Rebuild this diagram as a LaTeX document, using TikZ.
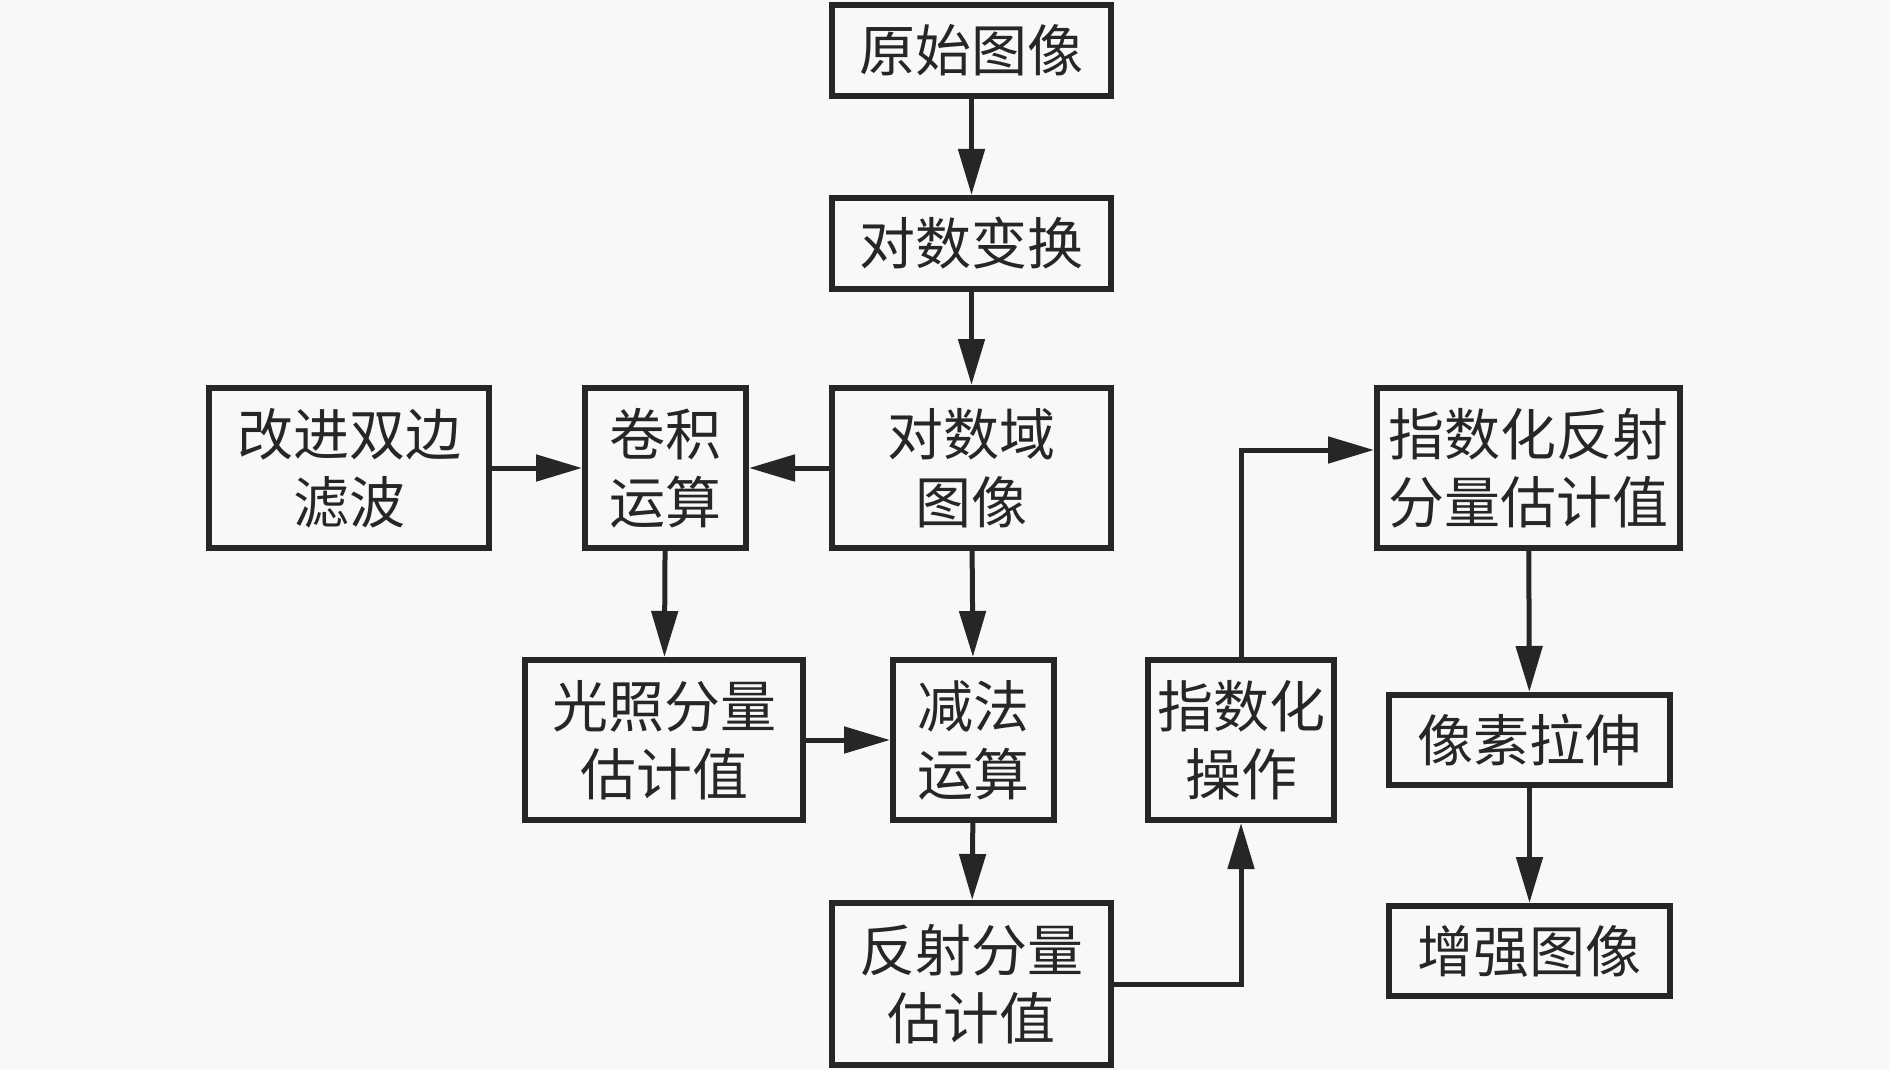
\documentclass[tikz,border=0pt]{standalone}
\usepackage{fontspec}
\newfontfamily\cjk{Noto Sans CJK SC}
\usetikzlibrary{arrows.meta,calc}
\definecolor{bg}{HTML}{F8F8F8}
\definecolor{ink}{HTML}{262626}
\begin{document}
\begin{tikzpicture}[x=1pt,y=-1pt,
  box/.style={draw=ink,line width=6pt,fill=bg,inner sep=0pt,align=center,
    text=ink,font=\cjk\fontsize{56}{68}\selectfont},
  arr/.style={draw=ink,line width=5pt,-{Triangle[length=46pt,width=26pt]}}]
\fill[bg] (0,0) rectangle (1890,1070);
\useasboundingbox (0,0) rectangle (1890,1070);
\node[box,minimum width=279pt,minimum height=91pt] (a) at (971.5,50.5) {原始图像};
\node[box,minimum width=279pt,minimum height=91pt] (b) at (971.5,243.5) {对数变换};
\node[box,minimum width=279pt,minimum height=160pt] (c) at (971.5,468) {对数域\\图像};
\node[box,minimum width=161pt,minimum height=160pt] (d) at (665.5,468) {卷积\\运算};
\node[box,minimum width=280pt,minimum height=160pt] (e) at (349,468) {改进双边\\滤波};
\node[box,minimum width=278pt,minimum height=160pt] (f) at (664,740) {光照分量\\估计值};
\node[box,minimum width=161pt,minimum height=160pt] (g) at (973.5,740) {减法\\运算};
\node[box,minimum width=279pt,minimum height=162pt] (h) at (971.5,984) {反射分量\\估计值};
\node[box,minimum width=186pt,minimum height=160pt] (i) at (1241,740) {指数化\\操作};
\node[box,minimum width=303pt,minimum height=160pt] (j) at (1528.5,468) {指数化反射\\分量估计值};
\node[box,minimum width=281pt,minimum height=90pt] (k) at (1529.5,740) {像素拉伸};
\node[box,minimum width=281pt,minimum height=90pt] (l) at (1529.5,951) {增强图像};
\coordinate (jin) at ([yshift=18pt]j.west);
\draw[arr] (a) -- (b);
\draw[arr] (b) -- (c);
\draw[arr] (c) -- (d);
\draw[arr] (e) -- (d);
\draw[arr] (d) -- (f);
\draw[arr] (c) -- (g);
\draw[arr] (f) -- (g);
\draw[arr] (g) -- (h);
\draw[arr] (h.east) -| (i.south);
\draw[arr] (i.north) |- (jin);
\draw[arr] (j) -- (k);
\draw[arr] (k) -- (l);
\end{tikzpicture}
\end{document}
